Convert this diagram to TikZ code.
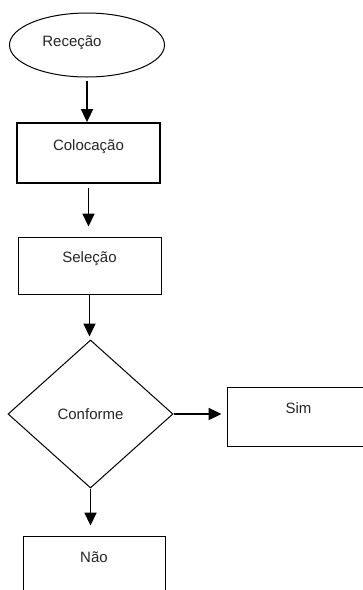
\documentclass[tikz,border=0pt]{standalone}
\usepackage{fontspec}
\setmainfont{Liberation Sans}
\usepackage{tikz}
\usetikzlibrary{positioning,calc,shapes.geometric,arrows.meta}

\begin{document}
\begin{tikzpicture}[
						x=1pt, y=-1pt,
						every node/.style={font=\fontsize{15}{17}\selectfont, text=black!85},
						box/.style={draw, line width=0.9pt, rectangle, minimum width=143pt, minimum height=58pt, inner sep=0pt, text height=11pt, text depth=16.3pt},
						start/.style={draw, line width=1pt, ellipse, minimum width=155pt, minimum height=64pt, inner sep=0pt, text height=11pt, text depth=8.3pt},
						decision/.style={draw, line width=1pt, diamond, minimum width=165pt, minimum height=148pt, inner sep=0pt},
						arr/.style={-{Triangle[width=12pt,length=13pt]}, line width=1.7pt}
						]
						\useasboundingbox (0,0) rectangle (363,590);
						\clip (0,0) rectangle (363,590);
						
						% Etapas do fluxo
						\node[start] (rececao) at (87,45) {Receção\hspace*{30pt}};
						\node[box, line width=1.8pt, minimum height=60pt] (colocacao) at (88.5,153) {Colocação};
						\node[box, minimum height=57pt] (selecao) at (89.5,265.5) {Seleção};
						\node[decision] (conforme) at (90.5,414) {Conforme};
						\node[box, minimum height=59pt] (sim) at (298.5,416.5) {Sim};
						\node[box, minimum width=142pt] (nao) at (94,565) {Não};
						
						% Setas entre as etapas
						\draw[arr, shorten <=3pt] (rececao.south) -- (rececao.south |- colocacao.north);
						\draw[arr, shorten <=4pt, shorten >=10pt] (colocacao.south) -- (colocacao.south |- selecao.north);
						\draw[arr, shorten >=3pt] (selecao.south) -- (selecao.south |- conforme.north);
						% Conforme -> Sim / Não
						\draw[arr, shorten >=5pt] (conforme.east) -- (conforme.east -| sim.west);
						\draw[arr, shorten >=10pt] (conforme.south) -- (conforme.south |- nao.north);
					\end{tikzpicture}
\end{document}
